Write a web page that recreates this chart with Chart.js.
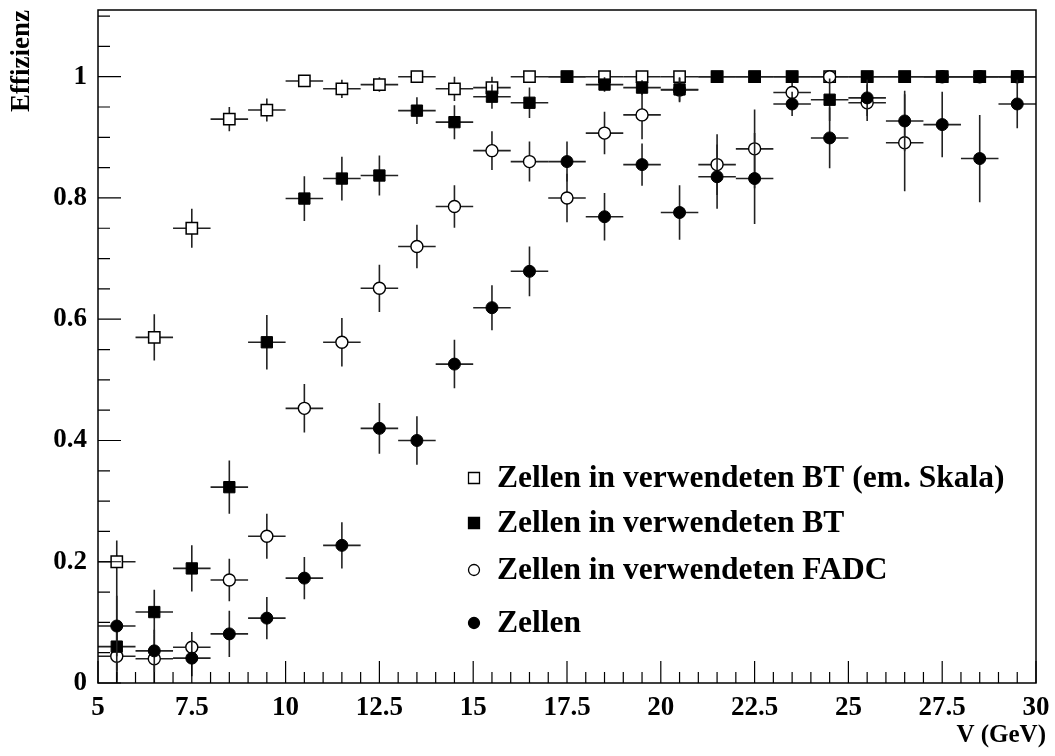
<!doctype html>
<html lang="de">
<head>
    <title>Effizienz</title>
    <meta charset="utf-8">
    <script src="https://cdn.jsdelivr.net/npm/chart.js@4/dist/chart.umd.min.js"></script>
    <style>
        html,
        body {
            margin: 0;
            padding: 0;
            background: #fff;
            overflow: hidden;
        }

        #wrap {
            position: relative;
            width: 1055px;
            height: 756px;
        }
    </style>
</head>

<body>
    <div id="wrap"><canvas id="chart"></canvas></div>
    <script>
        // bin centres (GeV), each bin is 1 GeV wide
        const energies = [5.5, 6.5, 7.5, 8.5, 9.5, 10.5, 11.5, 12.5, 13.5, 14.5, 15.5, 16.5, 17.5,
            18.5, 19.5, 20.5, 21.5, 22.5, 23.5, 24.5, 25.5, 26.5, 27.5, 28.5, 29.5];
        const binHalfWidth = 0.5;

        const labels = [
            "Zellen in verwendeten BT (em. Skala)",
            "Zellen in verwendeten BT",
            "Zellen in verwendeten FADC",
            "Zellen",
        ];

        const btEm = [0.20, 0.57, 0.75, 0.93, 0.945, 0.993, 0.98, 0.987, 1.0, 0.98, 0.982, 1.0, 1.0,
            1.0, 1.0, 1.0, 1.0, 1.0, 1.0, 1.0, 1.0, 1.0, 1.0, 1.0, 1.0];
        const btEmErr = [0.035, 0.038, 0.032, 0.02, 0.019, 0.008, 0.015, 0.012, 0, 0.02, 0.02, 0, 0,
            0, 0, 0, 0, 0, 0, 0, 0, 0, 0, 0, 0];
        const btEmErrLo = [0.20, 0.038, 0.032, 0.02, 0.019, 0.008, 0.015, 0.012, 0, 0.02, 0.02, 0, 0,
            0, 0, 0, 0, 0, 0, 0, 0, 0, 0, 0, 0];

        const bt = [0.06, 0.117, 0.189, 0.323, 0.562, 0.799, 0.832, 0.837, 0.944, 0.925, 0.967, 0.957, 1.0,
            0.987, 0.982, 0.979, 1.0, 1.0, 1.0, 0.962, 1.0, 1.0, 1.0, 1.0, 1.0];
        const btErr = [0.04, 0.037, 0.038, 0.044, 0.045, 0.037, 0.036, 0.033, 0.022, 0.028, 0.02, 0.025, 0,
            0.012, 0.012, 0.02, 0, 0, 0, 0.035, 0, 0, 0, 0, 0];

        const fadc = [0.044, 0.040, 0.059, 0.17, 0.242, 0.453, 0.562, 0.651, 0.72, 0.786, 0.878, 0.86, 0.80,
            0.907, 0.937, 0.978, 0.855, 0.881, 0.974, 1.0, 0.957, 0.891, 1.0, 1.0, 1.0];
        const fadcErr = [0.04, 0.04, 0.025, 0.035, 0.037, 0.04, 0.04, 0.039, 0.036, 0.035, 0.032, 0.033, 0.04,
            0.035, 0.04, 0.02, 0.05, 0.065, 0.02, 0, 0.03, 0.08, 0, 0, 0];

        const zellen = [0.094, 0.053, 0.041, 0.081, 0.107, 0.173, 0.227, 0.42, 0.40, 0.526, 0.619, 0.679, 0.86,
            0.769, 0.855, 0.776, 0.835, 0.832, 0.955, 0.899, 0.965, 0.927, 0.921, 0.865, 0.955];
        const zellenErr = [0.05, 0.035, 0.03, 0.038, 0.035, 0.035, 0.038, 0.042, 0.04, 0.04, 0.037, 0.041, 0.033,
            0.039, 0.035, 0.045, 0.053, 0.075, 0.02, 0.05, 0.03, 0.05, 0.054, 0.072, 0.04];

        const xTicks = [5, 7.5, 10, 12.5, 15, 17.5, 20, 22.5, 25, 27.5, 30];
        const yTicks = [0, 0.2, 0.4, 0.6, 0.8, 1];

        const FONT = '"Liberation Serif", "Times New Roman", serif';

        function points(vals) {
            return energies.map((x, i) => ({ x: x, y: vals[i] }));
        }

        function noPadding(s) {
            s.paddingTop = 0;
            s.paddingBottom = 0;
            s.paddingLeft = 0;
            s.paddingRight = 0;
        }

        // vertical + horizontal error bars, drawn just before each dataset's markers
        const errorBars = {
            id: "errorBars",
            beforeDatasetDraw(chart, args) {
                const ds = chart.data.datasets[args.index];
                const xs = chart.scales.x, ys = chart.scales.y;
                const ctx = chart.ctx;
                ctx.save();
                ctx.strokeStyle = "#222";
                ctx.lineWidth = 1.6;
                ds.data.forEach((p, i) => {
                    const hi = Math.min(1, p.y + ds.err[i]);
                    const lo = Math.max(0, p.y - (ds.errLo ? ds.errLo[i] : ds.err[i]));
                    const px = xs.getPixelForValue(p.x), py = ys.getPixelForValue(p.y);
                    ctx.beginPath();
                    ctx.moveTo(xs.getPixelForValue(p.x - binHalfWidth), py);
                    ctx.lineTo(xs.getPixelForValue(p.x + binHalfWidth), py);
                    if (hi > lo) {
                        ctx.moveTo(px, ys.getPixelForValue(hi));
                        ctx.lineTo(px, ys.getPixelForValue(lo));
                    }
                    ctx.stroke();
                });
                ctx.restore();
            },
        };

        // ROOT style frame with ticks pointing inwards, axis titles, legend
        const frame = {
            id: "frame",
            afterDraw(chart) {
                const ctx = chart.ctx, a = chart.chartArea;
                const xs = chart.scales.x, ys = chart.scales.y;
                ctx.save();
                ctx.strokeStyle = "#000";
                ctx.lineWidth = 1.5;
                ctx.strokeRect(a.left, a.top, a.right - a.left, a.bottom - a.top);

                ctx.lineWidth = 1.2;
                ctx.beginPath();
                for (let k = 0; k <= 50; k++) {
                    const v = 5 + k * 0.5;
                    const px = xs.getPixelForValue(v);
                    const len = k % 5 === 0 ? 22 : 11;
                    ctx.moveTo(px, a.bottom);
                    ctx.lineTo(px, a.bottom - len);
                }
                for (let k = 0; k <= 22; k++) {
                    const v = k * 0.05;
                    const py = ys.getPixelForValue(v);
                    const len = k % 4 === 0 ? 23 : 12;
                    ctx.moveTo(a.left, py);
                    ctx.lineTo(a.left + len, py);
                }
                ctx.stroke();

                ctx.fillStyle = "#000";
                ctx.font = "bold 25px " + FONT;
                ctx.textAlign = "right";
                ctx.textBaseline = "middle";
                ctx.fillText("V (GeV)", 1046, 736);

                ctx.save();
                ctx.font = "bold 27px " + FONT;
                ctx.translate(22, 10);
                ctx.rotate(-Math.PI / 2);
                ctx.textAlign = "right";
                ctx.fillText("Effizienz", 0, 0);
                ctx.restore();

                // legend
                const rows = [478, 523, 570, 623];
                ctx.font = "bold 31.5px " + FONT;
                ctx.textAlign = "left";
                chart.data.datasets.forEach((ds, i) => {
                    const y = rows[i], x = 474;
                    ctx.beginPath();
                    if (ds.pointStyle === "rect") {
                        ctx.rect(x - 5.5, y - 5.5, 11, 11);
                    } else {
                        ctx.arc(x, y, 5.5, 0, Math.PI * 2);
                    }
                    ctx.fillStyle = ds.backgroundColor;
                    ctx.fill();
                    ctx.lineWidth = 1.3;
                    ctx.stroke();
                    ctx.fillStyle = "#000";
                    ctx.fillText(ds.label, 497, y + 1);
                });
                ctx.restore();
            },
        };

        const ctx = document.getElementById("chart").getContext("2d");

        new Chart(ctx, {
            type: "scatter",
            data: {
                datasets: [{
                    label: labels[0],
                    data: points(btEm),
                    err: btEmErr,
                    errLo: btEmErrLo,
                    pointStyle: "rect",
                    pointRadius: 8,
                    backgroundColor: "#fff",
                    borderColor: "#000",
                    borderWidth: 1.5,
                    order: 3,
                }, {
                    label: labels[1],
                    data: points(bt),
                    err: btErr,
                    pointStyle: "rect",
                    pointRadius: 8,
                    backgroundColor: "#000",
                    borderColor: "#000",
                    borderWidth: 1,
                    order: 1,
                }, {
                    label: labels[2],
                    data: points(fadc),
                    err: fadcErr,
                    pointStyle: "circle",
                    pointRadius: 6,
                    backgroundColor: "#fff",
                    borderColor: "#000",
                    borderWidth: 1.4,
                    order: 2,
                }, {
                    label: labels[3],
                    data: points(zellen),
                    err: zellenErr,
                    pointStyle: "circle",
                    pointRadius: 6,
                    backgroundColor: "#000",
                    borderColor: "#000",
                    borderWidth: 1,
                    order: 0,
                }, ],
            },
            options: {
                responsive: true,
                maintainAspectRatio: false,
                animation: false,
                events: [],
                layout: {
                    padding: { top: 10, right: 19, left: 0, bottom: 0 },
                },
                plugins: {
                    legend: { display: false },
                    tooltip: { enabled: false },
                },
                scales: {
                    x: {
                        type: "linear",
                        min: 5,
                        max: 30,
                        grid: { display: false, drawTicks: false },
                        border: { display: false },
                        afterBuildTicks: (s) => { s.ticks = xTicks.map(v => ({ value: v })); },
                        afterFit: (s) => { s.height = 73; noPadding(s); },
                        ticks: {
                            color: "#000",
                            padding: 9,
                            maxRotation: 0,
                            font: { family: FONT, size: 27, weight: "bold" },
                            callback: (v) => String(v),
                        },
                    },
                    y: {
                        type: "linear",
                        min: 0,
                        max: 1.11,
                        grid: { display: false, drawTicks: false },
                        border: { display: false },
                        afterBuildTicks: (s) => { s.ticks = yTicks.map(v => ({ value: v })); },
                        afterFit: (s) => { s.width = 98; noPadding(s); },
                        ticks: {
                            color: "#000",
                            padding: 11,
                            font: { family: FONT, size: 27, weight: "bold" },
                            callback: (v) => String(v),
                        },
                    },
                },
            },
            plugins: [errorBars, frame],
        });
    </script>
</body>

</html>
